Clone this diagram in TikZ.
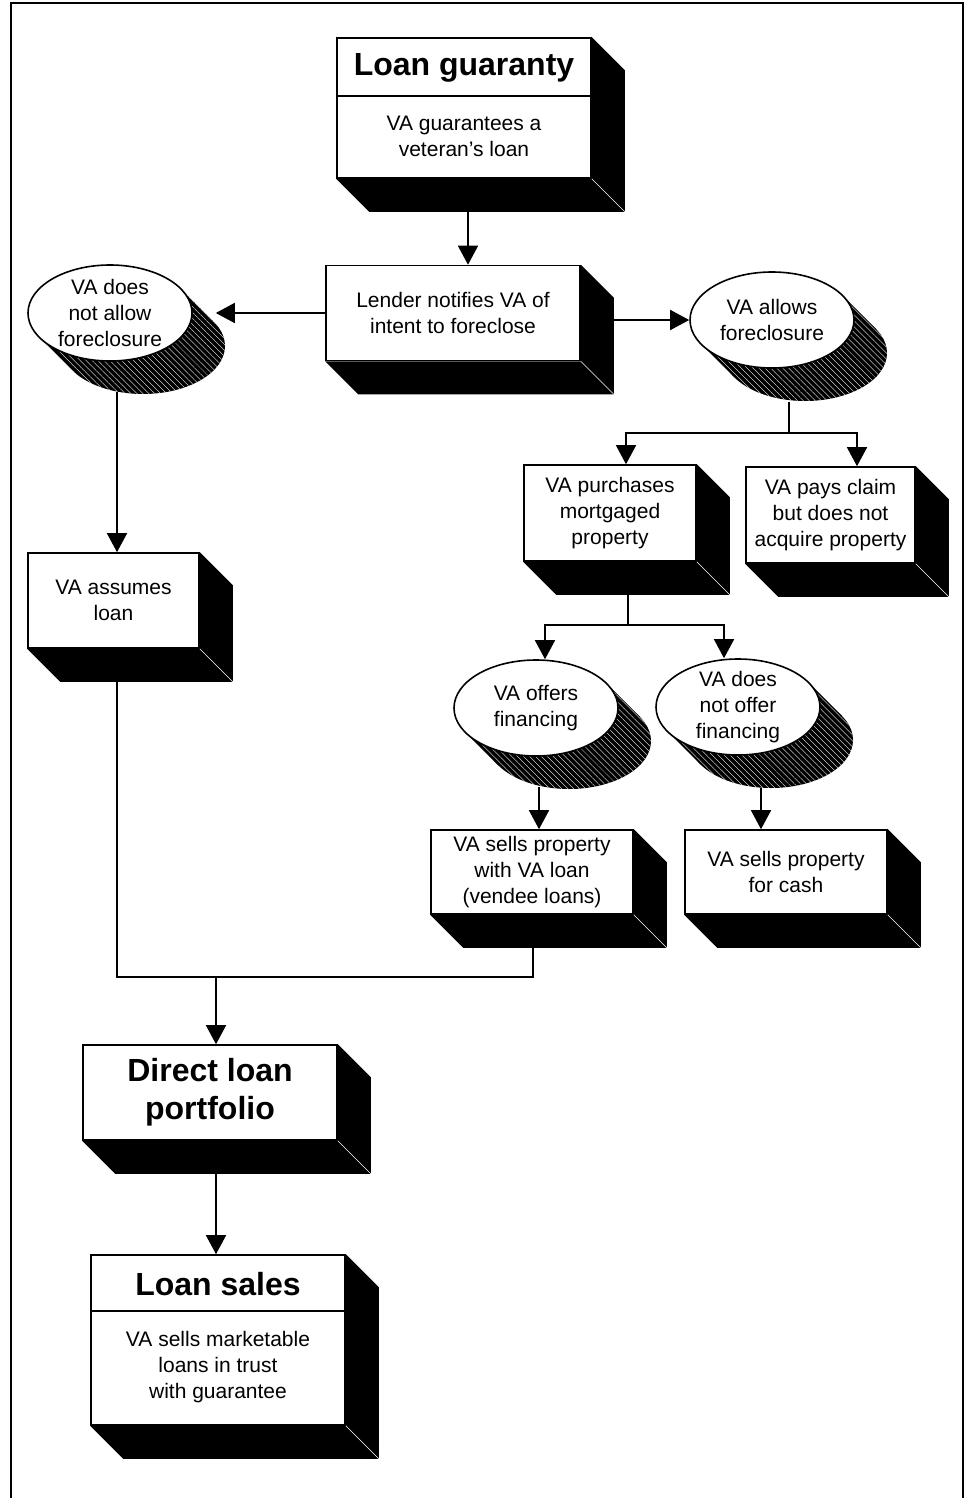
\documentclass[tikz,border=0pt]{standalone}
\usepackage{fontspec}
\setmainfont{Liberation Sans}
\usetikzlibrary{shapes.geometric,positioning,arrows.meta,patterns.meta,backgrounds}

\newcommand{\bodyfont}{\fontsize{21}{26}\selectfont}
\newcommand{\headfont}{\fontsize{32}{38}\selectfont\bfseries}

\tikzset{
  box/.style={rectangle, draw, fill=white, line width=1.6pt, inner sep=3pt, align=center, font=\bodyfont},
  oval/.style={ellipse, draw, fill=white, line width=1.6pt, minimum width=164pt, minimum height=96pt, inner sep=0pt},
  txt/.style={align=center, font=\bodyfont},
  head/.style={align=center, font=\headfont},
  hatch/.style={fill=black, postaction={pattern={Lines[angle=-45,distance=4.2pt,line width=0.35pt]}, pattern color=white}},
  arr/.style={-{Triangle[width=20pt,length=19pt]}, line width=1.6pt},
  link/.style={line width=1.6pt},
}

% solid block below and right of a box
\newcommand{\boxdepth}[1]{%
  \fill[black] (#1.north east) -- ++(33,33) -- ([shift={(33,33)}]#1.south east)
    -- ([shift={(33,33)}]#1.south west) -- (#1.south west) -- (#1.south east) -- cycle;
  \draw[white, line width=0.6pt] (#1.south east) -- ++(33,33);
}
% hatched sweep below and right of an oval
\newcommand{\ovaldepth}[1]{%
  \path[hatch] ([shift={(33,33)}]#1.center) ellipse [x radius=82, y radius=48];
  \path[hatch] ([shift={(70.8,-24.2)}]#1.center) -- ++(33,33) -- ([shift={(-37.8,57.2)}]#1.center)
    -- ([shift={(-70.8,24.2)}]#1.center) -- cycle;
}

\begin{document}
\begin{tikzpicture}[x=1pt, y=-1pt]
  \useasboundingbox (0,0) rectangle (969,1498);
  % Frame
  \draw[line width=1.6pt] (11,1500) -- (11,3) -- (963,3) -- (963,1500);

  % Boxes and ovals
  \node[box, minimum width=254pt, minimum height=140pt] (guar) at (464,108) {};
  \node[head] (guar-title) at (464,68) {Loan guaranty};
  \node[txt] (guar-text) at (464,136) {VA guarantees a\\veteran’s loan};
  \draw[link] ([yshift=-59pt]guar.north west) -- ([yshift=-59pt]guar.north east);

  \node[box, minimum width=254pt, minimum height=95pt] (lender) at (453,313) {Lender notifies VA of\\intent to foreclose};
  \node[oval] (noallow) at (110,313) {};
  \node[txt] (noallow-t) at (noallow) {VA does\\not allow\\foreclosure};
  \node[oval] (allow) at (772,320) {};
  \node[txt] (allow-t) at (allow) {VA allows\\foreclosure};

  \node[box, minimum width=172pt, minimum height=96pt] (purch) at (610,513) {VA purchases\\mortgaged\\property};
  \node[box, minimum width=169pt, minimum height=96pt] (pays) at (830.5,515) {VA pays claim\\but does not\\acquire property};
  \node[box, minimum width=171pt, minimum height=95pt] (assume) at (113.5,600.5) {VA assumes\\loan};

  \node[oval] (offers) at (536,708) {};
  \node[txt] (offers-t) at (offers) {VA offers\\financing};
  \node[oval] (nooffer) at (738,707) {};
  \node[txt] (nooffer-t) at (nooffer) {VA does\\not offer\\financing};

  \node[box, minimum width=202pt, minimum height=84pt] (vendee) at (532,872) {VA sells property\\with VA loan\\(vendee loans)};
  \node[box, minimum width=202pt, minimum height=84pt] (cash) at (786,872) {VA sells property\\for cash};

  \node[box, minimum width=254pt, minimum height=95pt, font=\headfont] (direct) at (210,1092.5) {Direct loan\\portfolio};
  \node[box, minimum width=254pt, minimum height=170pt] (sales) at (218,1340) {};
  \node[head] (sales-title) at (218,1284) {Loan sales};
  \node[txt] (sales-text) at (218,1367) {VA sells marketable\\loans in trust\\with guarantee};
  \draw[link] ([yshift=-57pt]sales.north west) -- ([yshift=-57pt]sales.north east);

  % Depth
  \foreach \b in {guar,lender,purch,pays,assume,vendee,cash,direct,sales}
    {\boxdepth{\b}}
  \begin{pgfonlayer}{background}
    \foreach \o in {noallow,allow,offers,nooffer}
      {\ovaldepth{\o}}
  \end{pgfonlayer}

  % Connectors
  \draw[arr] ([shift={(4,33)}]guar.south) -- ([xshift=15pt]lender.north);
  \draw[arr] (lender.west) -- ([xshift=23pt]noallow.east);
  \draw[arr] (lender.east |- allow.west) -- (allow.west);

  \coordinate (fork1) at (789,433);
  \draw[link] ([shift={(17,33)}]allow.south) -- (fork1);
  \draw[arr] (fork1) -| ([xshift=16pt]purch.north);
  \draw[arr] (fork1) -| ([xshift=26.5pt]pays.north);

  \coordinate (fork2) at (628,625);
  \draw[link] ([shift={(18,33)}]purch.south) -- (fork2);
  \draw[arr] (fork2) -| ([xshift=9pt]offers.north);
  \draw[arr] (fork2) -| ([xshift=-14pt]nooffer.north);

  \draw[arr] ([shift={(3,30)}]offers.south) -- ([xshift=7pt]vendee.north);
  \draw[arr] ([shift={(23,32)}]nooffer.south) -- ([xshift=-25pt]cash.north);
  \draw[arr] ([shift={(7,30)}]noallow.south) -- ([xshift=3.5pt]assume.north);

  \coordinate (merge) at (216,977);
  \draw[link] ([shift={(3.5,33)}]assume.south) |- (merge) -| ([shift={(1,33)}]vendee.south);
  \draw[arr] (merge) -- ([xshift=6pt]direct.north);
  \draw[arr] ([shift={(6,33)}]direct.south) -- ([xshift=-2pt]sales.north);
\end{tikzpicture}
\end{document}
